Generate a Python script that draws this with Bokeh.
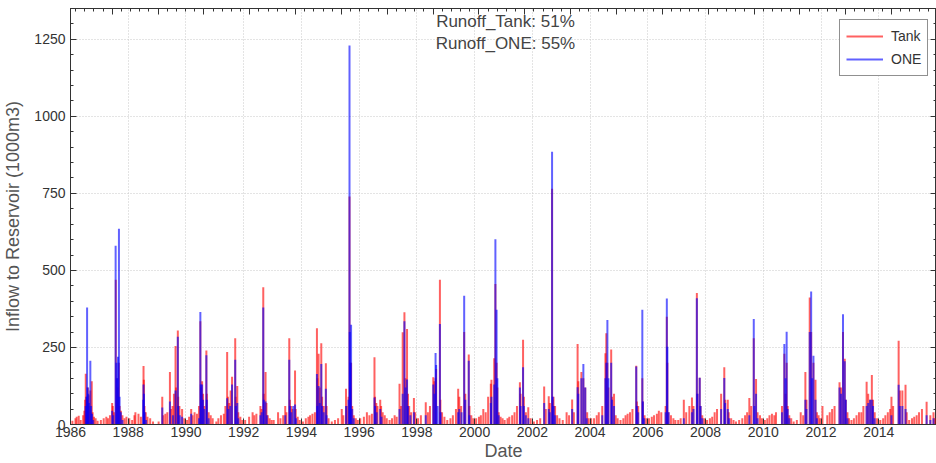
import pandas as pd
from bokeh.plotting import figure
from bokeh.models import (LinearAxis, DatetimeAxis, Range1d, SingleIntervalTicker,
                          DatetimeTickFormatter, FixedTicker, Legend, LegendItem, Label,
                          ColumnDataSource)
from bokeh.embed import file_html
from bokeh.resources import INLINE

# ---- data: daily inflow spikes (1000 m3) ----
tank = [
    ("1986-01-25", 12), ("1986-03-05", 20), ("1986-03-20", 25), ("1986-04-15", 28), ("1986-05-10", 15),
    ("1986-06-10", 30), ("1986-06-25", 45), ("1986-07-05", 80), ("1986-07-13", 165), ("1986-07-22", 90),
    ("1986-07-30", 85), ("1986-08-08", 120), ("1986-08-18", 95), ("1986-08-28", 60), ("1986-09-09", 110),
    ("1986-09-27", 140), ("1986-10-08", 40), ("1986-10-25", 25), ("1986-11-15", 20), ("1986-12-10", 12),
    ("1987-01-20", 15), ("1987-02-25", 20), ("1987-03-30", 25), ("1987-04-20", 20), ("1987-05-15", 30),
    ("1987-06-12", 70), ("1987-06-20", 60), ("1987-07-05", 40), ("1987-07-28", 470), ("1987-08-10", 150),
    ("1987-08-20", 120), ("1987-09-05", 200), ("1987-09-15", 60), ("1987-10-01", 45), ("1987-10-20", 30),
    ("1987-11-15", 20), ("1987-12-10", 25),
    ("1988-01-15", 20), ("1988-02-20", 15), ("1988-03-20", 30), ("1988-04-01", 40), ("1988-05-10", 35),
    ("1988-06-10", 25), ("1988-07-13", 190), ("1988-07-17", 145), ("1988-07-25", 60), ("1988-08-10", 40),
    ("1988-09-01", 25), ("1988-10-05", 20), ("1988-11-10", 10),
    ("1989-01-20", 10), ("1989-03-07", 90), ("1989-03-20", 30), ("1989-04-15", 35), ("1989-05-10", 40),
    ("1989-06-12", 170), ("1989-06-25", 50), ("1989-07-15", 60), ("1989-08-02", 100), ("1989-08-22", 255),
    ("1989-08-28", 120), ("1989-09-20", 305), ("1989-09-25", 90), ("1989-10-10", 60), ("1989-11-13", 50),
    ("1989-12-10", 20),
    ("1990-01-15", 15), ("1990-02-10", 25), ("1990-03-08", 50), ("1990-03-25", 30), ("1990-04-20", 40),
    ("1990-05-20", 35), ("1990-06-15", 60), ("1990-07-02", 335), ("1990-07-10", 120), ("1990-07-24", 140),
    ("1990-08-05", 100), ("1990-08-20", 60), ("1990-09-16", 240), ("1990-09-22", 100), ("1990-10-15", 40),
    ("1990-11-10", 30), ("1990-12-05", 20),
    ("1991-01-20", 10), ("1991-02-15", 20), ("1991-03-20", 30), ("1991-04-25", 35), ("1991-05-15", 60),
    ("1991-06-06", 235), ("1991-06-15", 90), ("1991-07-01", 70), ("1991-07-20", 110), ("1991-08-07", 155),
    ("1991-09-16", 280), ("1991-09-22", 90), ("1991-10-12", 125), ("1991-10-25", 40), ("1991-11-20", 25),
    ("1991-12-15", 15),
    ("1992-01-20", 15), ("1992-03-10", 25), ("1992-04-23", 40), ("1992-05-15", 30), ("1992-06-10", 35),
    ("1992-07-31", 60), ("1992-08-15", 50), ("1992-09-05", 445), ("1992-09-12", 100), ("1992-10-04", 170),
    ("1992-10-15", 70), ("1992-11-01", 30), ("1992-11-25", 20), ("1992-12-20", 15),
    ("1993-01-15", 15), ("1993-03-11", 40), ("1993-04-10", 20), ("1993-05-15", 30), ("1993-06-10", 60),
    ("1993-06-25", 40), ("1993-07-31", 280), ("1993-08-08", 80), ("1993-08-25", 60), ("1993-09-10", 50),
    ("1993-10-12", 175), ("1993-10-20", 50), ("1993-11-15", 25), ("1993-12-10", 15),
    ("1994-01-20", 10), ("1994-02-25", 20), ("1994-03-30", 25), ("1994-04-20", 30), ("1994-05-20", 35),
    ("1994-06-20", 40), ("1994-07-16", 312), ("1994-07-22", 150), ("1994-08-06", 230), ("1994-08-20", 120),
    ("1994-09-09", 264), ("1994-09-20", 90), ("1994-10-10", 60), ("1994-11-06", 199), ("1994-11-15", 60),
    ("1994-12-10", 20),
    ("1995-01-20", 10), ("1995-03-01", 15), ("1995-04-10", 20), ("1995-05-26", 50), ("1995-06-15", 30),
    ("1995-07-19", 116), ("1995-07-28", 60), ("1995-08-20", 90), ("1995-09-01", 740), ("1995-09-10", 120),
    ("1995-09-21", 200), ("1995-10-05", 60), ("1995-10-25", 30), ("1995-11-20", 20), ("1995-12-15", 15),
    ("1996-01-15", 20), ("1996-03-01", 25), ("1996-04-08", 40), ("1996-05-10", 30), ("1996-06-10", 35),
    ("1996-07-13", 218), ("1996-07-20", 90), ("1996-08-05", 70), ("1996-08-20", 60), ("1996-09-24", 80),
    ("1996-10-05", 60), ("1996-10-25", 40), ("1996-11-20", 30), ("1996-12-15", 20),
    ("1997-01-20", 15), ("1997-02-20", 20), ("1997-03-25", 30), ("1997-04-20", 25), ("1997-05-26", 132),
    ("1997-06-15", 60), ("1997-07-05", 299), ("1997-07-27", 364), ("1997-08-10", 150), ("1997-08-29", 310),
    ("1997-09-10", 100), ("1997-09-25", 60), ("1997-10-20", 40), ("1997-11-24", 86), ("1997-12-10", 40),
    ("1998-01-15", 20), ("1998-02-20", 30), ("1998-04-23", 72), ("1998-05-20", 40), ("1998-06-15", 60),
    ("1998-07-27", 153), ("1998-08-10", 140), ("1998-08-25", 150), ("1998-09-01", 180), ("1998-10-19", 470),
    ("1998-10-25", 80), ("1998-11-15", 40), ("1998-12-15", 25),
    ("1999-01-20", 15), ("1999-03-01", 20), ("1999-04-01", 30), ("1999-05-10", 50), ("1999-06-07", 116),
    ("1999-06-21", 90), ("1999-07-15", 60), ("1999-08-22", 300), ("1999-09-05", 100), ("1999-10-19", 227),
    ("1999-10-28", 60), ("1999-11-20", 30), ("1999-12-15", 20),
    ("2000-01-20", 20), ("2000-02-25", 25), ("2000-03-20", 30), ("2000-04-20", 50), ("2000-05-20", 40),
    ("2000-06-20", 90), ("2000-07-24", 132), ("2000-08-01", 145), ("2000-09-05", 215), ("2000-09-20", 456),
    ("2000-10-05", 200), ("2000-10-15", 120), ("2000-11-01", 40), ("2000-11-25", 25), ("2000-12-20", 20),
    ("2001-01-15", 15), ("2001-02-20", 20), ("2001-03-15", 25), ("2001-04-20", 30), ("2001-05-20", 40),
    ("2001-06-20", 60), ("2001-07-27", 137), ("2001-08-05", 100), ("2001-09-05", 275), ("2001-09-15", 90),
    ("2001-10-10", 40), ("2001-11-10", 56), ("2001-12-10", 20),
    ("2002-01-20", 10), ("2002-03-01", 15), ("2002-04-10", 20), ("2002-05-30", 123), ("2002-06-20", 50),
    ("2002-07-27", 92), ("2002-08-10", 70), ("2002-09-07", 765), ("2002-09-14", 80), ("2002-09-25", 90),
    ("2002-10-15", 60), ("2002-11-10", 30), ("2002-12-10", 20),
    ("2003-01-20", 15), ("2003-03-10", 40), ("2003-04-10", 30), ("2003-05-19", 81), ("2003-06-10", 40),
    ("2003-07-27", 261), ("2003-08-05", 140), ("2003-09-13", 170), ("2003-10-08", 150), ("2003-11-01", 120),
    ("2003-11-25", 40), ("2003-12-15", 20),
    ("2004-01-15", 20), ("2004-02-20", 20), ("2004-03-25", 30), ("2004-04-20", 40), ("2004-06-03", 60),
    ("2004-07-13", 231), ("2004-07-24", 296), ("2004-08-07", 200), ("2004-08-20", 120), ("2004-09-24", 243),
    ("2004-10-05", 90), ("2004-10-30", 100), ("2004-11-20", 30), ("2004-12-15", 20),
    ("2005-01-20", 15), ("2005-02-25", 20), ("2005-03-25", 30), ("2005-04-20", 35), ("2005-05-20", 40),
    ("2005-06-20", 50), ("2005-08-07", 191), ("2005-08-15", 75), ("2005-09-01", 60), ("2005-10-23", 150),
    ("2005-10-30", 75), ("2005-11-20", 30), ("2005-12-15", 20),
    ("2006-01-15", 20), ("2006-02-20", 25), ("2006-03-20", 30), ("2006-04-25", 35), ("2006-05-20", 45),
    ("2006-06-20", 40), ("2006-08-14", 60), ("2006-08-29", 350), ("2006-09-05", 200), ("2006-09-20", 40),
    ("2006-10-20", 30), ("2006-11-20", 20), ("2006-12-15", 15),
    ("2007-01-20", 15), ("2007-02-20", 20), ("2007-04-01", 80), ("2007-05-01", 40), ("2007-06-10", 60),
    ("2007-07-13", 88), ("2007-08-01", 60), ("2007-09-13", 427), ("2007-09-20", 100), ("2007-10-19", 152),
    ("2007-10-30", 60), ("2007-11-20", 30), ("2007-12-15", 20),
    ("2008-01-20", 15), ("2008-02-25", 20), ("2008-03-25", 25), ("2008-04-25", 40), ("2008-05-25", 50),
    ("2008-07-16", 100), ("2008-08-25", 186), ("2008-09-05", 80), ("2008-10-08", 80), ("2008-10-20", 40),
    ("2008-11-20", 20), ("2008-12-20", 15),
    ("2009-01-20", 10), ("2009-03-01", 15), ("2009-04-10", 20), ("2009-05-15", 30), ("2009-06-10", 40),
    ("2009-07-08", 86), ("2009-08-01", 60), ("2009-09-02", 280), ("2009-10-01", 148), ("2009-10-20", 40),
    ("2009-11-20", 30), ("2009-12-15", 20),
    ("2010-01-20", 15), ("2010-02-20", 20), ("2010-03-20", 30), ("2010-04-20", 35), ("2010-05-20", 30),
    ("2010-06-10", 40), ("2010-08-25", 60), ("2010-09-24", 230), ("2010-10-10", 100), ("2010-10-23", 200),
    ("2010-11-05", 60), ("2010-11-25", 30), ("2010-12-20", 20),
    ("2011-01-20", 10), ("2011-03-01", 15), ("2011-04-19", 40), ("2011-05-20", 30), ("2011-06-17", 170),
    ("2011-07-01", 80), ("2011-08-11", 412), ("2011-08-29", 300), ("2011-09-27", 200), ("2011-10-23", 145),
    ("2011-11-10", 40), ("2011-12-01", 30), ("2011-12-20", 20),
    ("2012-01-19", 60), ("2012-03-20", 30), ("2012-04-20", 40), ("2012-05-20", 50), ("2012-06-20", 60),
    ("2012-08-22", 137), ("2012-09-10", 120), ("2012-10-05", 300), ("2012-10-27", 213), ("2012-11-10", 80),
    ("2012-11-30", 40), ("2012-12-20", 20),
    ("2013-01-20", 15), ("2013-02-20", 20), ("2013-03-25", 30), ("2013-04-25", 40), ("2013-05-25", 40),
    ("2013-06-20", 60), ("2013-07-31", 139), ("2013-08-20", 100), ("2013-09-13", 80), ("2013-10-05", 161),
    ("2013-10-20", 80), ("2013-11-10", 40), ("2013-12-10", 20),
    ("2014-01-20", 15), ("2014-02-25", 20), ("2014-03-25", 30), ("2014-04-25", 40), ("2014-05-25", 50),
    ("2014-06-10", 90), ("2014-07-01", 60), ("2014-09-09", 272), ("2014-09-25", 110), ("2014-10-26", 110),
    ("2014-12-05", 129), ("2014-12-20", 40),
    ("2015-01-20", 15), ("2015-02-25", 20), ("2015-03-25", 25), ("2015-04-25", 30), ("2015-05-25", 40),
    ("2015-07-01", 50), ("2015-08-29", 74), ("2015-10-15", 30), ("2015-11-24", 40), ("2015-12-10", 20),
]

one = [
    ("1986-07-12", 60), ("1986-07-22", 90), ("1986-07-30", 380), ("1986-08-06", 120), ("1986-08-14", 100),
    ("1986-08-22", 70), ("1986-09-09", 207), ("1986-09-18", 60), ("1986-09-30", 35), ("1986-10-15", 15),
    ("1987-06-12", 45), ("1987-06-25", 30), ("1987-07-26", 580), ("1987-08-05", 200), ("1987-08-15", 150),
    ("1987-08-25", 220), ("1987-09-06", 635), ("1987-09-14", 90), ("1987-09-30", 40), ("1987-10-20", 15),
    ("1988-07-10", 80), ("1988-07-13", 130), ("1988-07-18", 100), ("1988-07-28", 40), ("1988-08-15", 15),
    ("1989-03-07", 55), ("1989-06-12", 75), ("1989-07-20", 30), ("1989-08-22", 110), ("1989-09-20", 285),
    ("1989-09-26", 60), ("1989-10-15", 30), ("1989-11-13", 25),
    ("1990-03-08", 35), ("1990-06-15", 20), ("1990-07-02", 365), ("1990-07-08", 130), ("1990-07-24", 130),
    ("1990-08-05", 80), ("1990-08-20", 50), ("1990-09-16", 225), ("1990-09-22", 80), ("1990-10-15", 20),
    ("1991-06-06", 85), ("1991-06-20", 50), ("1991-07-15", 60), ("1991-08-07", 130), ("1991-09-16", 210),
    ("1991-09-24", 60), ("1991-10-12", 70), ("1991-10-25", 20),
    ("1992-07-31", 30), ("1992-08-15", 40), ("1992-09-05", 380), ("1992-09-12", 80), ("1992-10-04", 75),
    ("1992-10-20", 30),
    ("1993-06-10", 30), ("1993-07-31", 210), ("1993-08-08", 60), ("1993-08-25", 40), ("1993-09-20", 60),
    ("1993-10-12", 65), ("1993-10-25", 20),
    ("1994-07-16", 164), ("1994-07-22", 60), ("1994-08-06", 125), ("1994-08-20", 70), ("1994-09-09", 196),
    ("1994-09-20", 60), ("1994-10-10", 40), ("1994-11-06", 116), ("1994-11-15", 30),
    ("1995-07-19", 60), ("1995-08-20", 80), ("1995-09-01", 1230), ("1995-09-05", 300), ("1995-09-12", 200),
    ("1995-09-21", 324), ("1995-10-05", 50), ("1995-10-25", 20),
    ("1996-07-13", 88), ("1996-07-22", 60), ("1996-08-10", 40), ("1996-09-24", 50), ("1996-10-10", 25),
    ("1997-05-26", 50), ("1997-07-05", 100), ("1997-07-27", 335), ("1997-08-10", 120), ("1997-08-29", 146),
    ("1997-09-10", 60), ("1997-10-10", 30), ("1997-11-24", 40),
    ("1998-04-23", 30), ("1998-07-27", 130), ("1998-08-10", 100), ("1998-08-25", 232), ("1998-09-01", 193),
    ("1998-09-20", 60), ("1998-10-19", 326), ("1998-10-28", 40),
    ("1999-06-07", 40), ("1999-06-21", 50), ("1999-07-20", 40), ("1999-08-22", 418), ("1999-09-05", 80),
    ("1999-10-19", 207), ("1999-10-28", 30),
    ("2000-07-24", 70), ("2000-08-01", 90), ("2000-09-05", 130), ("2000-09-20", 601), ("2000-10-05", 372),
    ("2000-10-15", 150), ("2000-11-01", 30),
    ("2001-07-27", 120), ("2001-08-05", 60), ("2001-09-05", 186), ("2001-09-15", 60), ("2001-10-10", 30),
    ("2001-11-10", 20),
    ("2002-05-30", 70), ("2002-07-27", 50), ("2002-08-10", 40), ("2002-09-07", 885), ("2002-09-15", 90),
    ("2002-09-28", 60), ("2002-10-15", 30),
    ("2003-05-19", 50), ("2003-07-27", 121), ("2003-08-05", 100), ("2003-09-13", 150), ("2003-10-08", 196),
    ("2003-11-01", 120), ("2003-11-20", 20),
    ("2004-06-03", 30), ("2004-07-13", 150), ("2004-07-24", 200), ("2004-08-07", 339), ("2004-08-20", 150),
    ("2004-09-24", 200), ("2004-10-05", 80), ("2004-10-30", 60),
    ("2005-08-07", 188), ("2005-08-15", 60), ("2005-09-01", 40), ("2005-10-23", 372), ("2005-10-30", 75),
    ("2005-11-15", 20),
    ("2006-08-14", 40), ("2006-08-29", 409), ("2006-09-05", 252), ("2006-09-20", 40),
    ("2007-04-01", 20), ("2007-07-13", 40), ("2007-08-01", 50), ("2007-09-13", 410), ("2007-09-20", 100),
    ("2007-10-19", 152), ("2007-10-30", 60), ("2007-11-20", 20),
    ("2008-07-16", 50), ("2008-08-25", 151), ("2008-09-05", 70), ("2008-10-08", 50), ("2008-10-25", 20),
    ("2009-07-08", 30), ("2009-09-02", 342), ("2009-09-10", 60), ("2009-10-01", 100), ("2009-10-20", 20),
    ("2010-08-25", 40), ("2010-09-24", 261), ("2010-10-10", 150), ("2010-10-23", 301), ("2010-11-05", 50),
    ("2010-11-25", 20),
    ("2011-06-17", 80), ("2011-07-01", 50), ("2011-08-11", 300), ("2011-08-29", 432), ("2011-09-10", 150),
    ("2011-09-27", 223), ("2011-10-23", 80), ("2011-11-10", 20),
    ("2012-08-22", 120), ("2012-09-10", 100), ("2012-10-05", 358), ("2012-10-27", 205), ("2012-11-10", 80),
    ("2012-11-30", 20),
    ("2013-07-31", 60), ("2013-08-20", 70), ("2013-09-13", 80), ("2013-10-05", 80), ("2013-10-20", 60),
    ("2013-11-10", 20),
    ("2014-06-10", 30), ("2014-09-09", 129), ("2014-09-25", 60), ("2014-10-26", 60), ("2014-12-05", 50),
    ("2015-08-29", 30), ("2015-10-15", 15), ("2015-11-24", 20),
]

series_names = ["Tank", "ONE"]
series_colors = ["#ff0000", "#0000ff"]
runoff_text = ["Runoff_Tank: 51%", "Runoff_ONE: 55%"]
tick_years = list(range(1986, 2015, 2))

# ---- figure ----
x_start = pd.Timestamp("1986-01-01")
x_end = pd.Timestamp("2016-01-01")
ms = lambda t: t.value / 1e6
year_tick_ms = [ms(pd.Timestamp(f"{y}-01-01")) for y in tick_years]

p = figure(width=936, height=463, x_axis_type="datetime",
           x_range=Range1d(x_start, x_end), y_range=Range1d(0, 1350),
           output_backend="svg", toolbar_location=None,
           min_border_left=68, min_border_right=0, min_border_top=8, min_border_bottom=39)
p.outline_line_color = "#333333"
p.background_fill_color = "white"
p.border_fill_color = "white"

FONT = "Liberation Sans"

renderers = []
for data, color in zip([tank, one], series_colors):
    src = ColumnDataSource(dict(date=pd.to_datetime([d for d, _ in data]),
                                val=[v for _, v in data]))
    r = p.segment(x0="date", y0=0, x1="date", y1="val", source=src,
                  line_color=color, line_alpha=0.62, line_width=2)
    renderers.append(r)

# axes
yax = p.yaxis[0]
yax.ticker = SingleIntervalTicker(interval=250, num_minor_ticks=5)
yax.axis_label = "Inflow to Reservoir (1000m3)"
xax = p.xaxis[0]
xax.ticker = FixedTicker(ticks=year_tick_ms)
xax.formatter = DatetimeTickFormatter(years="%Y", months="%Y", days="%Y")
xax.axis_label = "Date"

for ax in (yax, xax):
    ax.axis_line_color = "#333333"
    ax.major_tick_line_color = "#333333"
    ax.minor_tick_line_color = "#333333"
    ax.major_tick_in = 6
    ax.major_tick_out = 0
    ax.minor_tick_in = 3
    ax.minor_tick_out = 0
    ax.major_label_text_font = FONT
    ax.major_label_text_font_size = "14px"
    ax.major_label_text_color = "#333333"
    ax.axis_label_text_font = FONT
    ax.axis_label_text_font_style = "normal"
    ax.axis_label_text_color = "#555555"
yax.axis_label_text_font_size = "18px"
xax.axis_label_text_font_size = "18px"
yax.major_label_standoff = 5
yax.axis_label_standoff = 8
xax.major_label_standoff = 2
xax.axis_label_standoff = 1

# mirrored axes (ticks only, labels not drawn)
right_ax = LinearAxis(ticker=SingleIntervalTicker(interval=250, num_minor_ticks=5))
major_top = []
t = pd.Timestamp("1987-06-13")
while t < x_end:
    major_top.append(ms(t))
    t += pd.Timedelta(days=580)
minor_top = []
t = pd.Timestamp("1987-06-13") - pd.Timedelta(days=580)
while t < x_end:
    if t > x_start:
        minor_top.append(ms(t))
    t += pd.Timedelta(days=116)
top_ax = DatetimeAxis(ticker=FixedTicker(ticks=major_top, minor_ticks=minor_top))
for ax in (right_ax, top_ax):
    ax.axis_line_color = "#333333"
    ax.major_tick_line_color = "#333333"
    ax.minor_tick_line_color = "#333333"
    ax.major_tick_in = 6
    ax.major_tick_out = 0
    ax.minor_tick_in = 3
    ax.minor_tick_out = 0
    ax.major_label_text_font_size = "1px"
    ax.major_label_text_color = None
    ax.major_label_standoff = 0
p.add_layout(right_ax, "right")
p.add_layout(top_ax, "above")

# grid
for g in (p.xgrid[0], p.ygrid[0]):
    g.grid_line_color = "#c8c8c8"
    g.grid_line_dash = "1 2"
    g.grid_line_width = 1
p.xgrid[0].ticker = FixedTicker(ticks=year_tick_ms)
p.ygrid[0].ticker = SingleIntervalTicker(interval=250)

# runoff annotation
mid_x = ms(pd.Timestamp("2001-01-25"))
for txt, yv in zip(runoff_text, [1308, 1237]):
    p.add_layout(Label(x=mid_x, y=yv, text=txt, text_align="center", text_baseline="middle",
                       text_font=FONT, text_font_size="17px", text_color="#444444"))

legend = Legend(items=[LegendItem(label=n, renderers=[r]) for n, r in zip(series_names, renderers)],
                location=(769, 348))
legend.border_line_color = "#222222"
legend.border_line_width = 1
legend.background_fill_color = "white"
legend.background_fill_alpha = 1
legend.label_text_font = FONT
legend.label_text_font_size = "14px"
legend.label_text_color = "#333333"
legend.glyph_width = 37
legend.glyph_height = 20
legend.label_height = 20
legend.label_standoff = 8
legend.spacing = 3
legend.padding = 6
legend.margin = 0
p.add_layout(legend, "center")

open("out.html", "w").write(file_html(p, INLINE))
